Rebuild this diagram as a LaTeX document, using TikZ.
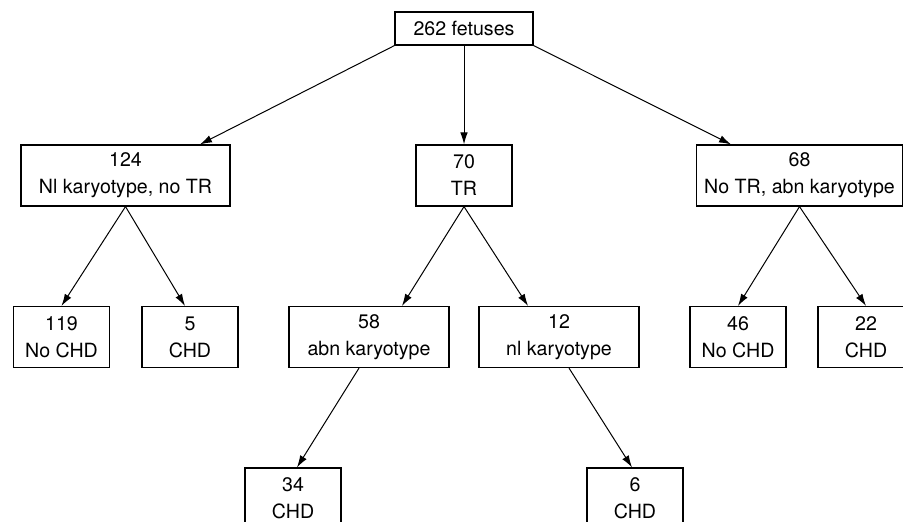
\documentclass[tikz,border=0pt]{standalone}
\usepackage{fontspec}
\setmainfont{TeX Gyre Heros}
\usetikzlibrary{calc,arrows.meta}
\tikzset{
  count box/.style={
    rectangle,
    draw=black,
    line width=0.6pt,
    anchor=center,
    align=center,
    minimum width=#1,
    minimum height=30.5pt,
    inner sep=0pt,
    font=\fontsize{9.8}{13.5}\selectfont,
  },
  count box/.default=48pt,
  flow/.style={
    line width=0.5pt,
    -{Latex[length=6pt,width=3.8pt]}
  }
}

\begin{document}
\begin{tikzpicture}[x=0.5pt,y=-0.5pt]
\clip (0,0) rectangle (903,522);
\node[count box=69pt,minimum height=16.5pt] (all) at (464,28.5) {262 fetuses};
\node[count box=104.5pt] (nlnotr) at (125.5,175.5) {124\\Nl karyotype, no TR};
\node[count box=48pt]    (tr)     at (464,175.5)   {70\\TR};
\node[count box=103pt]   (notr)   at (799.5,175.5) {68\\No TR, abn karyotype};
\node[count box] (nochdl) at (61.5,337) {119\\No CHD};
\node[count box] (chdl)   at (190,337)  {5\\CHD};
\node[count box=80pt] (abn) at (369,337) {58\\abn karyotype};
\node[count box=80pt] (nl)  at (559,337) {12\\nl karyotype};
\node[count box] (nochdr) at (738,337) {46\\No CHD};
\node[count box] (chdr)   at (866,337) {22\\CHD};
\node[count box] (chdabn) at (293,498.5) {34\\CHD};
\node[count box] (chdnl)  at (635,498.5) {6\\CHD};
\draw[flow] (all.south west) -- ($(nlnotr.north)+(74.5,0)$);
\draw[flow] (all.south) -- (tr.north);
\draw[flow] (all.south east) -- ($(notr.north)+(-68.5,0)$);
\draw[flow] (nlnotr.south) -- (nochdl.north);
\draw[flow] (nlnotr.south) -- ($(chdl.north)+(-5,0)$);
\draw[flow] (tr.south) -- ($(abn.north)+(33,0)$);
\draw[flow] (tr.south) -- ($(nl.north)+(-31,0)$);
\draw[flow] (notr.south) -- (nochdr.north);
\draw[flow] (notr.south) -- (chdr.north);
\draw[flow] ($(abn.south)+(-10,0)$) -- ($(chdabn.north)+(4,0)$);
\draw[flow] ($(nl.south)+(10,0)$) -- ($(chdnl.north)+(-3,0)$);
\end{tikzpicture}
\end{document}
